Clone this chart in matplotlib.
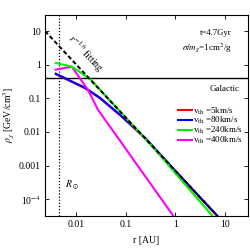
import numpy as np
import matplotlib
matplotlib.use('Agg')
import matplotlib.pyplot as plt

plt.rcParams['font.family'] = ['Liberation Serif', 'DejaVu Serif']
plt.rcParams['mathtext.fontset'] = 'stix'

# values (r in AU, rho in GeV/cm^3)
r_fit = [0.0024, 7.0]
rho_fit = [10.0, 3.2e-5]

r_red = [0.00395, 0.0152, 0.0305, 0.08, 0.25, 1.0, 7.0]
rho_red = [0.52, 0.199, 0.100, 0.030, 0.0064, 6.8e-4, 3.1e-5]

r_blue = [0.00395, 0.0152, 0.0305, 0.08, 0.25, 1.0, 7.0]
rho_blue = [0.54, 0.207, 0.104, 0.031, 0.0066, 7.0e-4, 3.2e-5]

r_green = [0.00395, 0.0083, 0.0192, 0.1, 0.4, 1.26, 5.57]
rho_green = [1.12, 0.87, 0.38, 0.027, 0.0029, 4.0e-4, 3.2e-5]

r_mag = [0.00395, 0.0083, 0.0174, 0.0278, 0.097, 0.91]
rho_mag = [0.71, 0.87, 0.18, 0.046, 0.0034, 3.2e-5]

rho_gal = 0.4
r_sun = 0.00465

labels = [r'v$_{\rm th}$ =5km/s', r'v$_{\rm th}$ =80km/s',
          r'v$_{\rm th}$ =240km/s', r'v$_{\rm th}$ =400km/s']

fig = plt.figure(figsize=(2.5, 2.5), dpi=100)
ax = fig.add_axes([0.18, 0.137, 0.812, 0.803])

ax.plot(r_red, rho_red, color='#ff0000', lw=1.5, label=labels[0], zorder=3)
ax.plot(r_blue, rho_blue, color='#0000ff', lw=1.5, label=labels[1], zorder=4)
ax.plot(r_green, rho_green, color='#00ee00', lw=1.5, label=labels[2], zorder=5)
ax.plot(r_mag, rho_mag, color='#ff00ff', lw=1.5, label=labels[3], zorder=4.5)
ax.plot(r_fit, rho_fit, color='k', lw=1.4, dashes=(2.2, 1.3), zorder=6)

ax.axhline(rho_gal, color='k', lw=1.0)
ax.axvline(r_sun, color='k', lw=0.9, ls=(0, (1, 1.5)))

ax.set_xscale('log')
ax.set_yscale('log')
ax.set_xlim(0.0024, 29)
ax.set_ylim(3.2e-5, 30)

ax.set_xticks([0.01, 0.1, 1, 10])
ax.set_xticklabels(['0.01', '0.1', '1', '10'])
ax.set_yticks([10, 1, 0.1, 0.01, 0.001, 1e-4])
ax.set_yticklabels(['10', '1', '0.1', '0.01', '0.001', r'10$^{-4}$'])
ax.minorticks_off()
ax.tick_params(direction='in', top=True, right=True, length=3, width=0.6,
               labelsize=7, pad=3)
for s in ax.spines.values():
    s.set_linewidth(0.8)

ax.set_xlabel('r [AU]', fontsize=7, labelpad=5)
ax.set_ylabel(r'$\rho_\chi$ [GeV/cm$^3$]', fontsize=7, labelpad=2)

ax.text(0.921, 0.91, 't=4.7Gyr', transform=ax.transAxes, ha='right',
        va='center', fontsize=6.2)
ax.text(0.921, 0.836, r'$\sigma/m_\chi$=1cm$^2$/g', transform=ax.transAxes,
        ha='right', va='center', fontsize=6.5)
ax.text(0.96, 0.631, 'Galactic', transform=ax.transAxes, ha='right',
        va='center', fontsize=6.5)
ax.text(0.099, 0.153, r'$R_\odot$', transform=ax.transAxes, ha='left',
        va='center', fontsize=7)
ax.text(0.197, 0.81, r'$r^{-1.6}$ fitting', transform=ax.transAxes,
        ha='center', va='center', fontsize=7, rotation=-47,
        rotation_mode='anchor')

ax.legend(loc='upper right', bbox_to_anchor=(0.975, 0.55), frameon=False,
          fontsize=6.5, handlelength=1.5, handletextpad=0.15,
          labelspacing=-0.15, borderpad=0, borderaxespad=0)

fig.savefig('out.png', dpi=100)
